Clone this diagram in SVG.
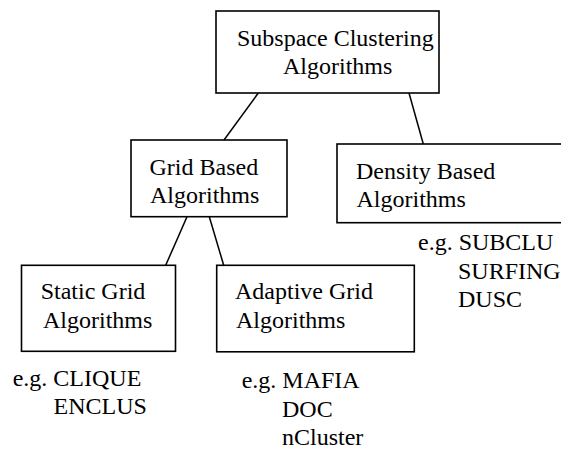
<svg xmlns="http://www.w3.org/2000/svg" width="561" height="450" viewBox="0 0 561 450">
<style>
.box{fill:#fff;stroke:#000;stroke-width:1.6}
.edge{stroke:#000;stroke-width:1.5;fill:none}
text{font-family:"Liberation Serif","Times New Roman",serif;font-size:24px;fill:#000}
</style>
<rect width="561" height="450" fill="#fff"/>
<g id="connectors">
<line class="edge" x1="258.3" y1="93" x2="224" y2="140"/>
<line class="edge" x1="409" y1="93" x2="423.3" y2="144"/>
<line class="edge" x1="187" y1="216.7" x2="165.7" y2="265.3"/>
<line class="edge" x1="209.3" y1="216.7" x2="223.7" y2="265.3"/>
</g>
<g id="subspace">
<rect class="box" x="216" y="11" width="223" height="82"/>
<text x="237" y="45.5">Subspace Clustering</text>
<text x="283" y="73.5">Algorithms</text>
</g>
<g id="grid">
<rect class="box" x="131" y="140" width="156" height="76.7"/>
<text x="149.5" y="174.5">Grid Based</text>
<text x="150" y="202.5">Algorithms</text>
</g>
<g id="density">
<rect class="box" x="337" y="144" width="228" height="78.7"/>
<text x="356" y="178.5">Density Based</text>
<text x="356.5" y="206.5">Algorithms</text>
</g>
<g id="static">
<rect class="box" x="21.5" y="265.3" width="154" height="86"/>
<text x="40.7" y="299">Static Grid</text>
<text x="43" y="328">Algorithms</text>
</g>
<g id="adaptive">
<rect class="box" x="216.7" y="265.3" width="197.6" height="86.5"/>
<text x="235" y="299">Adaptive Grid</text>
<text x="236" y="328">Algorithms</text>
</g>
<g id="density-examples">
<text x="418" y="250">e.g. SUBCLU</text>
<text x="458" y="279">SURFING</text>
<text x="458" y="307">DUSC</text>
</g>
<g id="static-examples">
<text x="12.7" y="385.5">e.g. CLIQUE</text>
<text x="53.5" y="413.5">ENCLUS</text>
</g>
<g id="adaptive-examples">
<text x="241.7" y="388">e.g. MAFIA</text>
<text x="282" y="417">DOC</text>
<text x="282" y="445">nCluster</text>
</g>
</svg>
